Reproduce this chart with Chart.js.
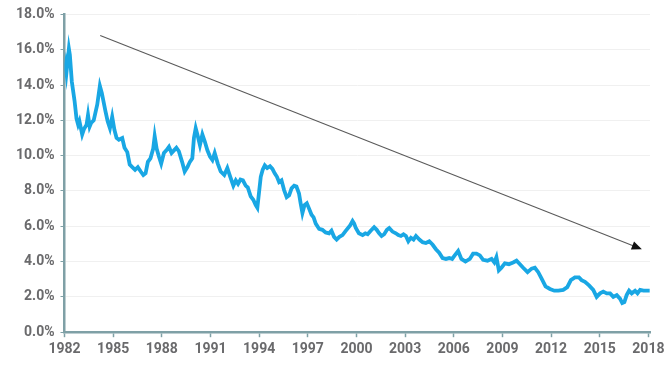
<!DOCTYPE html>
<html>
<head>
<meta charset="utf-8">
<script src="https://cdn.jsdelivr.net/npm/chart.js@4"></script>
<style>
  html, body { margin: 0; padding: 0; background: #fff; }
  #wrap { width: 672px; height: 370px; }
</style>
</head>
<body>
<div id="wrap"><canvas id="grafico"></canvas></div>
<script>
// Anos (decimais) e rendimentos
const years = [
  1982.02, 1982.07, 1982.12, 1982.27, 1982.33, 1982.45, 1982.62, 1982.74, 1982.84, 1982.92,
  1983.09, 1983.2, 1983.36, 1983.45, 1983.55, 1983.64, 1983.8, 1984.02, 1984.18, 1984.3,
  1984.53, 1984.66, 1984.8, 1984.94, 1985.08, 1985.21, 1985.35, 1985.56, 1985.7, 1985.87,
  1986.02, 1986.18, 1986.35, 1986.52, 1986.7, 1986.86, 1987.0, 1987.14, 1987.3, 1987.47,
  1987.56, 1987.68, 1987.82, 1987.96, 1988.13, 1988.28, 1988.44, 1988.6, 1988.75, 1988.9,
  1989.05, 1989.25, 1989.41, 1989.58, 1989.73, 1989.88, 1989.98, 1990.09, 1990.22, 1990.35,
  1990.5, 1990.65, 1990.81, 1990.97, 1991.12, 1991.26, 1991.45, 1991.63, 1991.85, 1992.04,
  1992.22, 1992.41, 1992.56, 1992.7, 1992.85, 1993.0, 1993.17, 1993.3, 1993.48, 1993.64,
  1993.79, 1993.89, 1993.98, 1994.1, 1994.22, 1994.35, 1994.5, 1994.67, 1994.82, 1994.96,
  1995.1, 1995.23, 1995.38, 1995.54, 1995.7, 1995.85, 1996.0, 1996.16, 1996.3, 1996.46,
  1996.56, 1996.67, 1996.8, 1996.94, 1997.08, 1997.23, 1997.36, 1997.49, 1997.7, 1997.9,
  1998.1, 1998.31, 1998.46, 1998.62, 1998.78, 1998.95, 1999.14, 1999.35, 1999.61, 1999.76,
  1999.86, 1999.96, 2000.15, 2000.38, 2000.55, 2000.69, 2000.88, 2001.09, 2001.25, 2001.4,
  2001.55, 2001.71, 2001.88, 2002.02, 2002.22, 2002.43, 2002.58, 2002.74, 2002.9, 2003.05,
  2003.2, 2003.36, 2003.52, 2003.67, 2003.88, 2004.08, 2004.28, 2004.49, 2004.7, 2004.9,
  2005.1, 2005.31, 2005.52, 2005.72, 2005.9, 2006.06, 2006.27, 2006.47, 2006.72, 2006.99,
  2007.19, 2007.4, 2007.61, 2007.81, 2008.08, 2008.33, 2008.5, 2008.63, 2008.78, 2008.94,
  2009.15, 2009.4, 2009.66, 2009.87, 2010.08, 2010.28, 2010.55, 2010.8, 2011.0, 2011.21,
  2011.41, 2011.66, 2011.93, 2012.2, 2012.45, 2012.75, 2013.0, 2013.22, 2013.47, 2013.72,
  2013.88, 2014.09, 2014.34, 2014.6, 2014.81, 2015.02, 2015.22, 2015.43, 2015.64, 2015.84,
  2016.05, 2016.25, 2016.39, 2016.52, 2016.66, 2016.81, 2016.97, 2017.18, 2017.33, 2017.49,
  2017.7, 2017.9, 2018.08
];
const yields = [
  14.8, 15.1, 14.7, 16.05, 15.7, 14.2, 13.1, 12.1, 11.75, 11.95,
  11.2, 11.5, 11.75, 12.3, 11.65, 11.85, 12.0, 12.9, 13.95, 13.55,
  12.5, 11.95, 11.55, 12.2, 11.45, 11.0, 10.9, 11.0, 10.45, 10.2,
  9.5, 9.35, 9.2, 9.35, 9.1, 8.9, 9.0, 9.65, 9.85, 10.4,
  11.1, 10.4, 9.95, 9.55, 10.15, 10.3, 10.5, 10.15, 10.3, 10.45,
  10.25, 9.65, 9.1, 9.35, 9.65, 9.85, 11.0, 11.55, 11.1, 10.6,
  11.2, 10.8, 10.3, 9.95, 9.75, 10.15, 9.55, 9.1, 8.9, 9.3,
  8.8, 8.3, 8.6, 8.4, 8.65, 8.6, 8.3, 8.2, 7.7, 7.5,
  7.2, 7.05, 7.8, 8.8, 9.2, 9.45, 9.3, 9.4, 9.25, 9.0,
  8.8, 8.5, 8.6, 8.05, 7.65, 7.75, 8.15, 8.3, 8.25, 7.85,
  7.3, 6.75, 7.2, 7.3, 7.0, 6.65, 6.5, 6.15, 5.85, 5.8,
  5.65, 5.6, 5.75, 5.4, 5.25, 5.4, 5.5, 5.75, 6.05, 6.3,
  6.15, 5.9, 5.6, 5.5, 5.6, 5.55, 5.75, 5.95, 5.8, 5.6,
  5.45, 5.55, 5.8, 5.9, 5.7, 5.6, 5.5, 5.45, 5.55, 5.45,
  5.15, 5.35, 5.25, 5.45, 5.25, 5.1, 5.05, 5.15, 4.95, 4.7,
  4.5, 4.2, 4.15, 4.2, 4.15, 4.35, 4.6, 4.15, 4.0, 4.15,
  4.45, 4.45, 4.35, 4.1, 4.05, 4.15, 3.95, 4.25, 3.5, 3.65,
  3.9, 3.85, 3.95, 4.05, 3.85, 3.65, 3.4, 3.6, 3.65, 3.4,
  3.05, 2.6, 2.45, 2.35, 2.35, 2.4, 2.55, 2.95, 3.1, 3.1,
  2.95, 2.85, 2.65, 2.4, 2.0, 2.2, 2.3, 2.2, 2.2, 2.0,
  2.1, 1.9, 1.65, 1.7, 2.1, 2.35, 2.2, 2.35, 2.2, 2.4,
  2.35, 2.35, 2.35
];

// Seta de tendência (início e fim)
const trendYears = [1984.2, 2017.6];
const trendValues = [16.8, 4.7];

// Rótulos dos eixos
const yearTicks = [1982, 1985, 1988, 1991, 1994, 1997, 2000, 2003, 2006, 2009, 2012, 2015, 2018];
const pctTicks = [0, 2, 4, 6, 8, 10, 12, 14, 16, 18];

const axisColor = "#7fa0a6";
const labelColor = "#6a6a6c";

// Plugin que desenha a seta
const trendArrow = {
  id: "trendArrow",
  afterDatasetsDraw(chart) {
    const { ctx, scales } = chart;
    const x1 = scales.x.getPixelForValue(trendYears[0]);
    const y1 = scales.y.getPixelForValue(trendValues[0]);
    const x2 = scales.x.getPixelForValue(trendYears[1]);
    const y2 = scales.y.getPixelForValue(trendValues[1]);
    const ang = Math.atan2(y2 - y1, x2 - x1);
    const head = 11;
    ctx.save();
    ctx.strokeStyle = "#5a5a5a";
    ctx.lineWidth = 1.1;
    ctx.beginPath();
    ctx.moveTo(x1, y1);
    ctx.lineTo(x2 - Math.cos(ang) * head * 0.8, y2 - Math.sin(ang) * head * 0.8);
    ctx.stroke();
    ctx.fillStyle = "#111";
    ctx.beginPath();
    ctx.moveTo(x2, y2);
    ctx.lineTo(x2 - head * Math.cos(ang - 0.4), y2 - head * Math.sin(ang - 0.4));
    ctx.lineTo(x2 - head * Math.cos(ang + 0.4), y2 - head * Math.sin(ang + 0.4));
    ctx.closePath();
    ctx.fill();
    ctx.restore();
  },
};

const ctx = document.getElementById("grafico").getContext("2d");

new Chart(ctx, {
  type: "line",
  data: {
    datasets: [
      {
        label: "Yield",
        data: years.map((y, i) => ({ x: y, y: yields[i] })),
        borderColor: "#19a7e4",
        borderWidth: 3.8,
        pointRadius: 0,
        tension: 0,
        fill: false,
      },
    ],
  },
  options: {
    responsive: true,
    maintainAspectRatio: false,
    animation: false,
    layout: { padding: { top: 6, left: 10, right: 22, bottom: 8 } },
    plugins: {
      legend: { display: false },
      tooltip: { enabled: false },
    },
    scales: {
      x: {
        type: "linear",
        min: 1982,
        max: 2018.1,
        afterBuildTicks: (axis) => {
          axis.ticks = yearTicks.map((v) => ({ value: v }));
        },
        ticks: {
          color: labelColor,
          font: { family: "Roboto", size: 14, weight: "bold" },
          padding: 4,
          maxRotation: 0,
          autoSkip: false,
          callback: (v) => String(v),
        },
        grid: {
          drawOnChartArea: false,
          tickLength: 5,
          tickColor: axisColor,
          tickWidth: 1.5,
        },
        border: { color: axisColor, width: 2.5 },
      },
      y: {
        min: 0,
        max: 18,
        afterBuildTicks: (axis) => {
          axis.ticks = pctTicks.map((v) => ({ value: v }));
        },
        ticks: {
          color: labelColor,
          font: { family: "Roboto", size: 14, weight: "bold" },
          padding: 6,
          callback: (v) => v.toFixed(1) + "%",
        },
        grid: {
          color: "#f0f0f0",
          lineWidth: 1,
          tickLength: 4,
          tickColor: axisColor,
        },
        border: { color: axisColor, width: 2.5 },
      },
    },
  },
  plugins: [trendArrow],
});
</script>
</body>
</html>
